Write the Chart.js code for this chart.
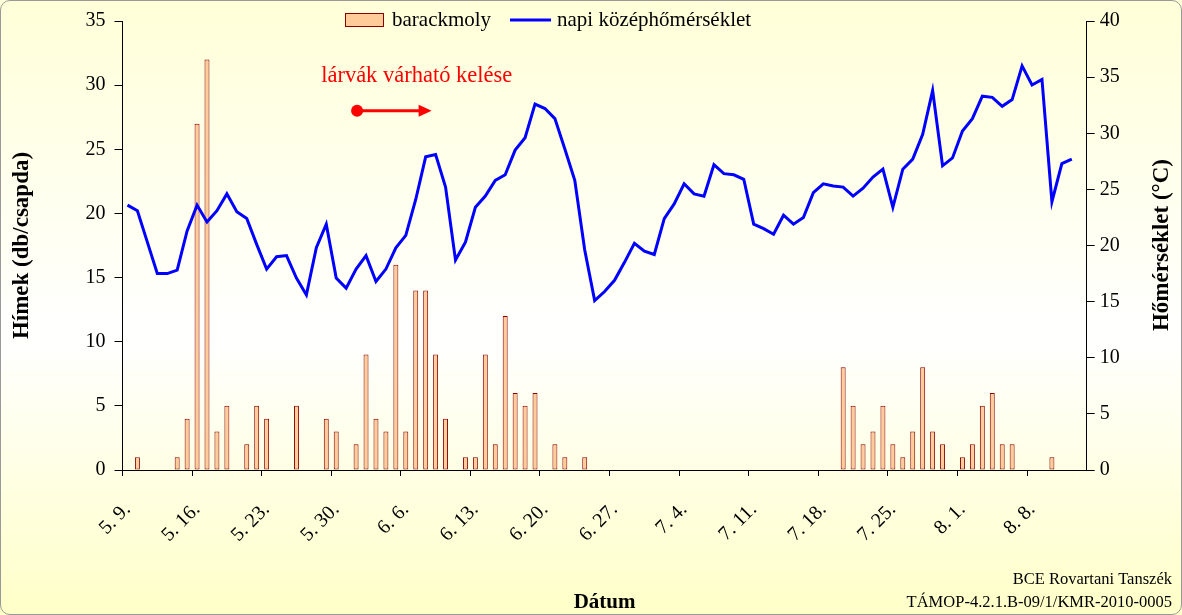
<!DOCTYPE html>
<html>
<head>
<meta charset="utf-8">
<script src="https://cdn.jsdelivr.net/npm/chart.js@4.4.1/dist/chart.umd.min.js"></script>
<style>
html, body { margin: 0; padding: 0; }
#wrap { position: relative; width: 1182px; height: 615px; overflow: hidden;
  background: linear-gradient(to bottom, #ffffd8 0%, #ffffff 55%, #ffffc8 100%); }
#frame { position: absolute; left: 0; top: 0; width: 1182px; height: 615px; box-sizing: border-box;
  border: 1px solid #999; border-radius: 10px; pointer-events: none; }
canvas { position: absolute; left: 0; top: 0; }
</style>
</head>
<body>
<div id="wrap">
  <canvas id="chart" width="1182" height="615"></canvas>
  <div id="frame"></div>
</div>
<script>
// napok: 5.9. - 8.13.
var honapHossz = { 5: 31, 6: 30, 7: 31, 8: 31 };
var datumok = [];
var m = 5, d = 9;
for (var i = 0; i < 97; i++) {
    datumok.push(m + '. ' + d + '.');
    d++;
    if (d > honapHossz[m]) { d = 1; m++; }
}

// hímek száma (db/csapda)
var barackmoly = [
    0, 1, 0, 0, 0, 1, 4, 27, 32, 3,
    5, 0, 2, 5, 4, 0, 0, 5, 0, 0,
    4, 3, 0, 2, 9, 4, 3, 16, 3, 14,
    14, 9, 4, 0, 1, 1, 9, 2, 12, 6,
    5, 6, 0, 2, 1, 0, 1, 0, 0, 0,
    0, 0, 0, 0, 0, 0, 0, 0, 0, 0,
    0, 0, 0, 0, 0, 0, 0, 0, 0, 0,
    0, 0, 8, 5, 2, 3, 5, 2, 1, 3,
    8, 3, 2, 0, 1, 2, 5, 6, 2, 2,
    0, 0, 0, 1, 0, 0, 0
];

// napi középhőmérséklet (°C)
var homerseklet = [
    23.6, 23.1, 20.3, 17.5, 17.5, 17.8, 21.3, 23.6, 22.1, 23.1,
    24.6, 23.0, 22.4, 20.1, 17.9, 19.0, 19.1, 17.1, 15.6, 19.8,
    21.9, 17.1, 16.2, 17.9, 19.1, 16.8, 17.9, 19.8, 20.9, 24.1,
    27.9, 28.1, 25.2, 18.7, 20.3, 23.4, 24.4, 25.8, 26.3, 28.5,
    29.6, 32.6, 32.2, 31.3, 28.6, 25.8, 19.6, 15.1, 15.9, 16.9,
    18.5, 20.2, 19.5, 19.2, 22.4, 23.7, 25.5, 24.6, 24.4, 27.2,
    26.4, 26.3, 25.9, 21.9, 21.5, 21.0, 22.7, 21.9, 22.5, 24.7,
    25.5, 25.3, 25.2, 24.4, 25.1, 26.1, 26.8, 23.4, 26.8, 27.7,
    29.9, 33.8, 27.1, 27.8, 30.2, 31.3, 33.3, 33.2, 32.4, 33.0,
    36.0, 34.3, 34.8, 23.9, 27.3, 27.7
];

var serif = "'Liberation Serif', 'Times New Roman', serif";
Chart.defaults.font.family = serif;
Chart.defaults.font.size = 20;
Chart.defaults.color = '#000';

// jelmagyarázat, felirat, jobb tengelycím, lábléc
var diszitesek = {
    id: 'diszitesek',
    afterDraw: function (chart) {
        var ctx = chart.ctx;
        var x = chart.scales.x, y = chart.scales.y;
        ctx.save();

        // jelmagyarázat
        ctx.fillStyle = '#FFCC99';
        ctx.fillRect(345.5, 13.5, 38, 13);
        ctx.strokeStyle = '#880000';
        ctx.lineWidth = 1;
        ctx.strokeRect(345.5, 13.5, 38, 13);
        ctx.strokeStyle = '#0000FF';
        ctx.lineWidth = 3;
        ctx.beginPath();
        ctx.moveTo(510, 20);
        ctx.lineTo(551, 20);
        ctx.stroke();
        ctx.fillStyle = '#000';
        ctx.font = '21px ' + serif;
        ctx.textBaseline = 'middle';
        ctx.textAlign = 'left';
        ctx.fillText('barackmoly', 392, 20);
        ctx.fillText('napi középhőmérséklet', 557, 20);

        // lárvák várható kelése
        var x0 = x.getPixelForValue(23.1), x1 = x.getPixelForValue(30.6);
        var ya = y.getPixelForValue(28);
        ctx.fillStyle = '#FF0000';
        ctx.textAlign = 'center';
        ctx.font = '22.5px ' + serif;
        ctx.fillText('lárvák várható kelése', x.getPixelForValue(29.1), y.getPixelForValue(30.7));
        ctx.strokeStyle = '#FF0000';
        ctx.lineWidth = 3;
        ctx.beginPath();
        ctx.moveTo(x0, ya);
        ctx.lineTo(x1 - 10, ya);
        ctx.stroke();
        ctx.beginPath();
        ctx.arc(x0, ya, 6, 0, Math.PI * 2);
        ctx.fill();
        ctx.beginPath();
        ctx.moveTo(x1, ya);
        ctx.lineTo(x1 - 13, ya - 6);
        ctx.lineTo(x1 - 13, ya + 6);
        ctx.closePath();
        ctx.fill();

        // jobb oldali tengelycím
        ctx.fillStyle = '#000';
        ctx.font = 'bold 23px ' + serif;
        ctx.translate(1162, 245);
        ctx.rotate(-Math.PI / 2);
        ctx.fillText('Hőmérséklet (°C)', 0, 0);
        ctx.setTransform(1, 0, 0, 1, 0, 0);

        // lábléc
        ctx.font = '16.5px ' + serif;
        ctx.textAlign = 'right';
        ctx.fillText('BCE Rovartani Tanszék', 1172, 580);
        ctx.fillText('TÁMOP-4.2.1.B-09/1/KMR-2010-0005', 1172, 603);
        ctx.restore();
    }
};

var ctxHimek = document.getElementById('chart').getContext('2d');
var himekChart = new Chart(ctxHimek, {
    data: {
        labels: datumok,
        datasets: [{
            type: 'bar',
            label: 'barackmoly',
            data: barackmoly,
            backgroundColor: '#FFCC99',
            borderColor: '#880000',
            borderWidth: 1,
            borderSkipped: false,
            barPercentage: 0.5,
            categoryPercentage: 1,
            yAxisID: 'y',
            order: 2
        }, {
            type: 'line',
            label: 'napi középhőmérséklet',
            data: homerseklet,
            borderColor: '#0000FF',
            borderWidth: 3,
            pointRadius: 0,
            tension: 0,
            fill: false,
            yAxisID: 'y1',
            order: 1
        }]
    },
    options: {
        responsive: false,
        animation: false,
        layout: { padding: { top: 20, left: 0, right: 0, bottom: 0 } },
        plugins: {
            legend: { display: false },
            tooltip: { enabled: false }
        },
        scales: {
            x: {
                offset: true,
                grid: {
                    offset: true,
                    drawOnChartArea: false,
                    tickLength: 6,
                    color: function (c) { return c.index % 7 === 0 ? '#000' : 'rgba(0,0,0,0)'; }
                },
                border: { color: '#000', width: 1 },
                ticks: {
                    autoSkip: false,
                    maxRotation: 45,
                    minRotation: 45,
                    padding: 22,
                    color: '#000',
                    callback: function (v, idx) { return idx % 7 === 0 ? this.getLabelForValue(v) : ''; }
                },
                title: {
                    display: true,
                    text: 'Dátum',
                    font: { size: 21, weight: 'bold' },
                    padding: { top: 0, bottom: 0 }
                },
                afterFit: function (s) { s.height = 145; }
            },
            y: {
                position: 'left',
                min: 0,
                max: 35,
                ticks: { stepSize: 5, padding: 9, color: '#000' },
                grid: { drawOnChartArea: false, tickLength: 8, color: '#000' },
                border: { color: '#000', width: 1 },
                title: {
                    display: true,
                    text: 'Hímek (db/csapda)',
                    font: { size: 23, weight: 'bold' },
                    padding: { top: 8, bottom: 0 }
                },
                afterFit: function (s) { s.width = 122.5; }
            },
            y1: {
                position: 'right',
                min: 0,
                max: 40,
                ticks: { stepSize: 5, padding: 5, color: '#000' },
                grid: { drawOnChartArea: false, tickLength: 8, color: '#000' },
                border: { color: '#000', width: 1 },
                afterFit: function (s) { s.width = 95.3; }
            }
        }
    },
    plugins: [diszitesek]
});
</script>
</body>
</html>
